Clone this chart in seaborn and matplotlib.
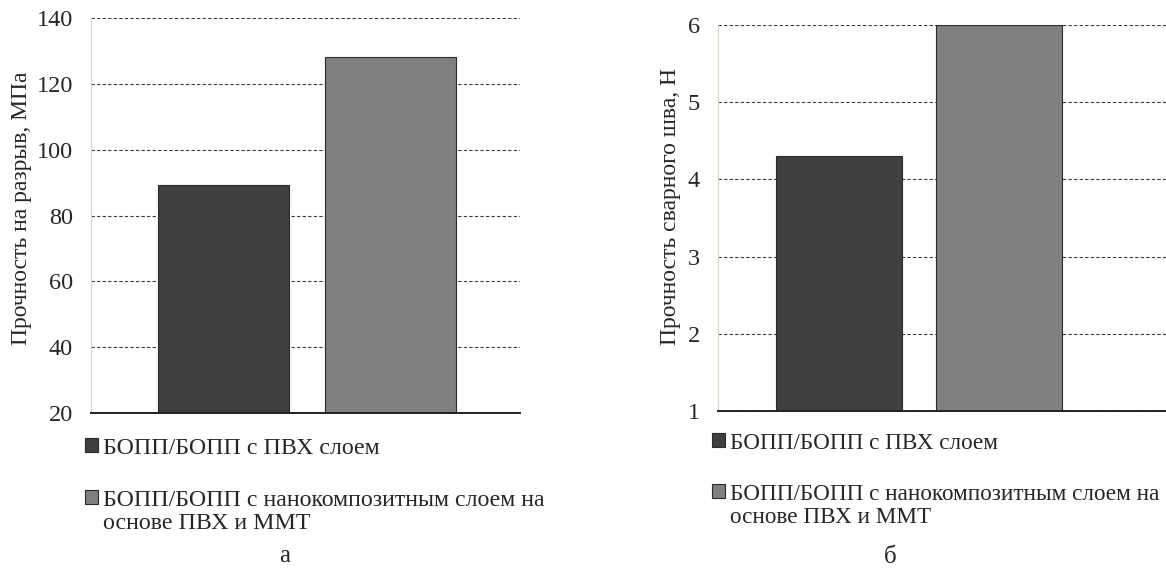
import numpy as np
import pandas as pd
import matplotlib
matplotlib.use('Agg')
import matplotlib.pyplot as plt
import seaborn as sns

# data
series = ['БОПП/БОПП с ПВХ слоем',
          'БОПП/БОПП с нанокомпозитным слоем на\nоснове ПВХ и ММТ']
tensile = [89.2, 128.2]      # Прочность на разрыв, МПа
seam = [4.3, 6.0]            # Прочность сварного шва, Н
colors = ['#404040', '#808080']

sns.set_style('white')
plt.rcParams['font.family'] = ['Liberation Serif', 'DejaVu Serif']

fig = plt.figure(figsize=(11.66, 5.74), dpi=100)
W, H = 1166, 574

def panel(rect, values, ylim, step, ylabel, xlim, label_xy, leg_xy, leg_size,
          caption_xy, caption):
    ax = fig.add_axes(rect)
    df = pd.DataFrame({'grp': [''] * len(series), 'series': series, 'value': values})
    sns.barplot(data=df, x='grp', y='value', hue='series', palette=colors,
                width=0.77, gap=0.21, edgecolor='#2a2a2a', linewidth=0.8,
                ax=ax, legend=True)
    ax.set_ylim(*ylim)
    ax.set_xlim(*xlim)
    ax.set_yticks(np.arange(ylim[0], ylim[1] + step / 2, step))
    ax.set_xticks([])
    ax.set_xlabel('')
    ax.set_ylabel(ylabel, fontsize=17, va='center')
    ax.yaxis.set_label_coords(*label_xy)
    ax.tick_params(axis='y', length=0, pad=13, labelsize=17.5)
    ax.grid(axis='y', color='#3a3a3a', linestyle=(0, (3, 2)), linewidth=0.8)
    ax.set_axisbelow(True)
    for s in ['top', 'right']:
        ax.spines[s].set_visible(False)
    ax.spines['left'].set_color('#d8d6c4')
    ax.spines['left'].set_linewidth(0.8)
    ax.spines['bottom'].set_color('#222222')
    ax.spines['bottom'].set_linewidth(1.4)
    handles, labels = ax.get_legend_handles_labels()
    leg = ax.legend(handles, labels, loc='upper left',
                    bbox_to_anchor=(leg_xy[0] / W, 1 - leg_xy[1] / H),
                    bbox_transform=fig.transFigure, frameon=False, fontsize=leg_size,
                    handlelength=0.55, handleheight=0.55, handletextpad=0.22,
                    labelspacing=1.3, borderaxespad=0, borderpad=0)
    for t in leg.get_texts():
        t.set_linespacing(1.12)
    # square next to the first line of a wrapped label
    for col in leg._legend_handle_box.get_children():
        for row in col.get_children():
            row.align = 'top'
    fig.text(caption_xy[0] / W, 1 - caption_xy[1] / H, caption,
             ha='center', va='center', fontsize=18)
    return ax

panel([91 / W, 1 - 413 / H, 429 / W, 395 / H], tensile, (20, 140), 20,
      'Прочность на разрыв, МПа', (-0.498, 0.491), (-0.161, 0.519),
      (85, 438), 17.2, (285, 556), 'а')
panel([718 / W, 1 - 411 / H, 448 / W, 386 / H], seam, (1, 6), 1,
      'Прочность сварного шва, Н', (-0.484, 0.594), (-0.107, 0.531),
      (712, 433), 16.7, (890, 557), 'б')

fig.savefig('out.png', dpi=100)
